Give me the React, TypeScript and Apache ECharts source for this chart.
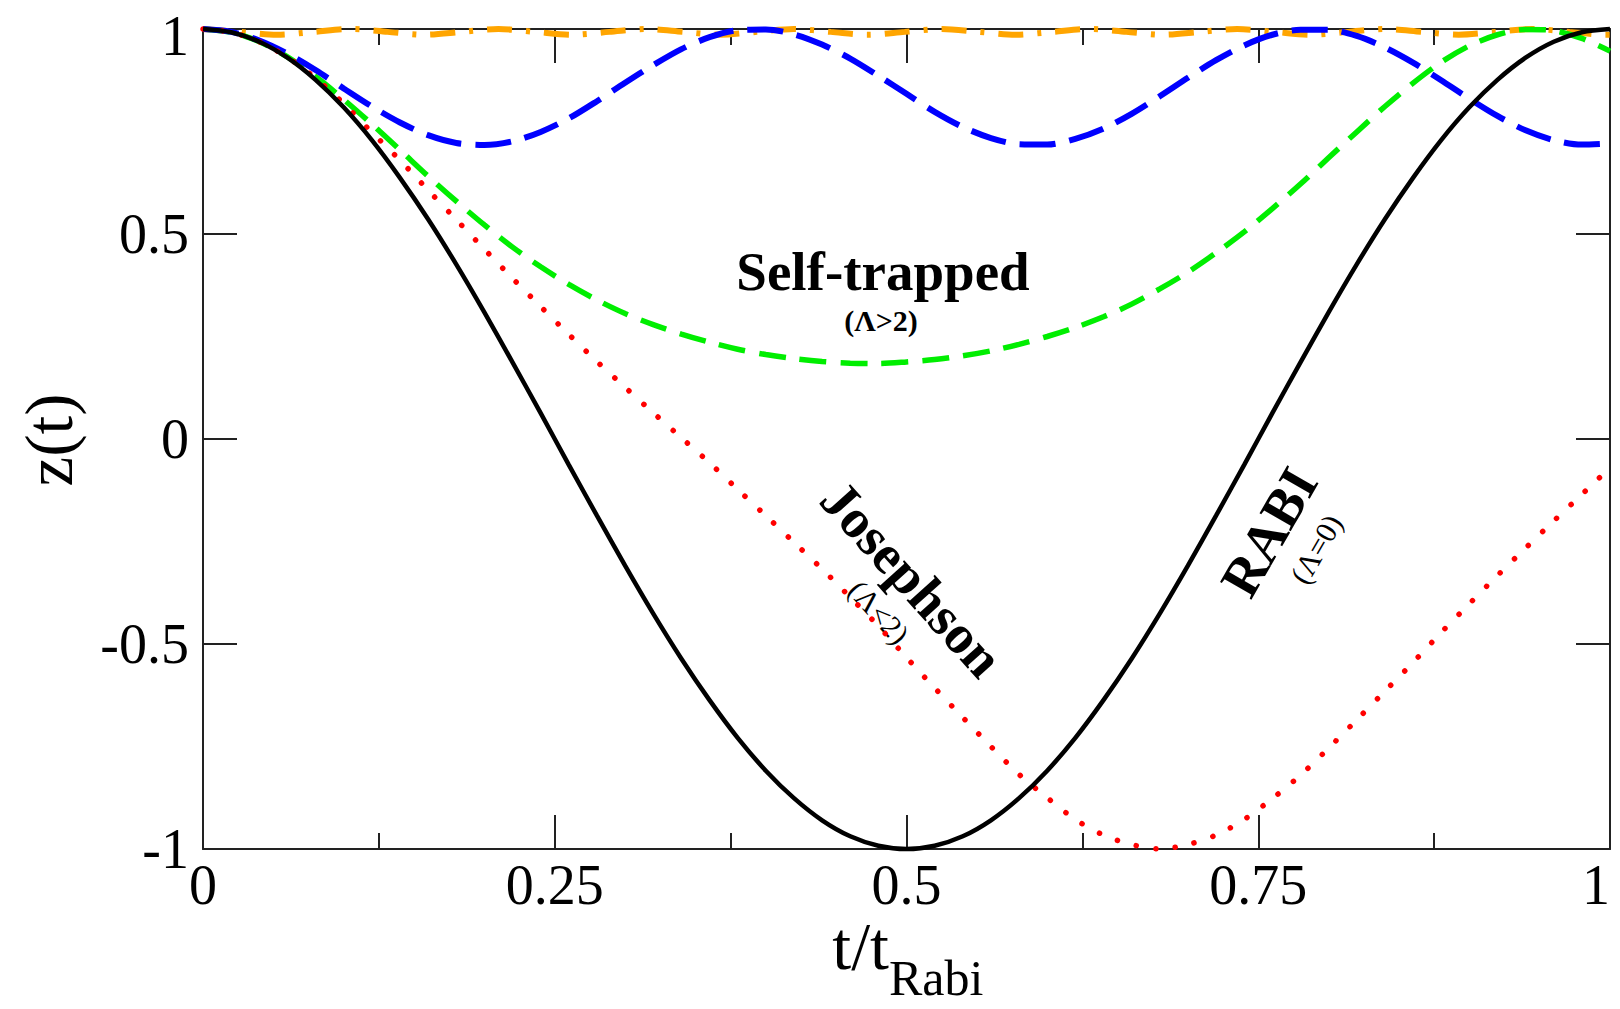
import React, { useEffect, useRef } from 'react';
import * as echarts from 'echarts';

// time grid (t / t_Rabi)
const T = [0, 0.02, 0.04, 0.06, 0.08, 0.1, 0.12, 0.14, 0.16, 0.18, 0.2, 0.22, 0.24, 0.26, 0.28, 0.3, 0.32, 0.34, 0.36, 0.38, 0.4, 0.42, 0.44, 0.46, 0.48, 0.5, 0.52, 0.54, 0.56, 0.58, 0.6, 0.62, 0.64, 0.66, 0.68, 0.7, 0.72, 0.74, 0.76, 0.78, 0.8, 0.82, 0.84, 0.86, 0.88, 0.9, 0.92, 0.94, 0.96, 0.98, 1.0];

// RABI (Λ=0), solid black
const RABI = [1.0, 0.992, 0.969, 0.930, 0.876, 0.809, 0.729, 0.637, 0.536, 0.426, 0.309, 0.187, 0.063, -0.063, -0.187, -0.309, -0.426, -0.536, -0.637, -0.729, -0.809, -0.876, -0.930, -0.969, -0.992, -1.0, -0.992, -0.969, -0.930, -0.876, -0.809, -0.729, -0.637, -0.536, -0.426, -0.309, -0.187, -0.063, 0.063, 0.187, 0.309, 0.426, 0.536, 0.637, 0.729, 0.809, 0.876, 0.930, 0.969, 0.992, 1.0];

// Josephson (Λ<2), red dotted
const JOSEPHSON = [1.0, 0.992, 0.969, 0.931, 0.880, 0.818, 0.748, 0.680, 0.607, 0.535, 0.463, 0.392, 0.323, 0.255, 0.189, 0.126, 0.064, 0.003, -0.058, -0.123, -0.187, -0.252, -0.317, -0.386, -0.456, -0.533, -0.607, -0.679, -0.750, -0.818, -0.875, -0.928, -0.966, -0.989, -1.0, -0.989, -0.966, -0.928, -0.877, -0.820, -0.754, -0.685, -0.615, -0.545, -0.472, -0.402, -0.333, -0.266, -0.200, -0.135, -0.070];

// green dashed
const GREEN = [1.0, 0.992, 0.969, 0.932, 0.884, 0.828, 0.768, 0.705, 0.641, 0.580, 0.522, 0.468, 0.420, 0.377, 0.339, 0.306, 0.279, 0.256, 0.236, 0.219, 0.206, 0.196, 0.189, 0.185, 0.184, 0.188, 0.194, 0.203, 0.215, 0.231, 0.250, 0.272, 0.298, 0.329, 0.366, 0.407, 0.454, 0.505, 0.562, 0.622, 0.686, 0.749, 0.811, 0.868, 0.919, 0.959, 0.986, 0.999, 0.996, 0.977, 0.946];

// blue long-dashed
const BLUE = [1.0, 0.993, 0.972, 0.940, 0.900, 0.855, 0.811, 0.772, 0.741, 0.722, 0.717, 0.726, 0.749, 0.782, 0.824, 0.869, 0.912, 0.951, 0.980, 0.997, 0.999, 0.987, 0.962, 0.928, 0.886, 0.842, 0.798, 0.761, 0.734, 0.719, 0.718, 0.732, 0.757, 0.793, 0.836, 0.881, 0.924, 0.960, 0.986, 0.998, 0.998, 0.983, 0.955, 0.918, 0.875, 0.830, 0.788, 0.753, 0.729, 0.718, 0.721];

// orange dash-dot (nearly flat, small ripple)
const T_ORANGE = [0, 0.02625, 0.0525, 0.07875, 0.105, 0.13125, 0.1575, 0.18375, 0.21, 0.23625, 0.2625, 0.28875, 0.315, 0.34125, 0.3675, 0.39375, 0.42, 0.44625, 0.4725, 0.49875, 0.525, 0.55125, 0.5775, 0.60375, 0.63, 0.65625, 0.6825, 0.70875, 0.735, 0.76125, 0.7875, 0.81375, 0.84, 0.86625, 0.8925, 0.91875, 0.945, 0.97125, 0.9975, 1.0];
const ORANGE = [1.0, 0.993, 0.986, 0.993, 1.0, 0.993, 0.986, 0.993, 1.0, 0.993, 0.986, 0.993, 1.0, 0.993, 0.986, 0.993, 1.0, 0.993, 0.986, 0.993, 1.0, 0.993, 0.986, 0.993, 1.0, 0.993, 0.986, 0.993, 1.0, 0.993, 0.986, 0.993, 1.0, 0.993, 0.986, 0.993, 1.0, 0.993, 0.986, 0.986];

const X_TICK_LABELS = ['0', '0.25', '0.5', '0.75', '1'];
const Y_TICK_LABELS = ['-1', '-0.5', '0', '0.5', '1'];

const FONT = '"Liberation Serif", "Times New Roman", serif';

export default function App() {
  const ref = useRef<HTMLDivElement>(null);

  useEffect(() => {
    const chart = echarts.init(ref.current!, undefined, { renderer: 'svg' });
    const pairs = (ts: number[], vs: number[]) => ts.map((t, i) => [t, vs[i]]);
    const axisColor = '#222';
    const axisLine = { show: true, onZero: false, lineStyle: { color: axisColor, width: 2 } };
    const tick = { show: true, inside: true, length: 34, lineStyle: { color: axisColor, width: 2 } };

    const xBase = {
      type: 'value',
      min: 0,
      max: 1,
      interval: 0.25,
      axisLine,
      axisTick: tick,
      minorTick: { show: true, splitNumber: 2, length: 16, lineStyle: { color: axisColor, width: 2 } },
      splitLine: { show: false },
      minorSplitLine: { show: false },
    };
    const yBase = {
      type: 'value',
      min: -1,
      max: 1,
      interval: 0.5,
      axisLine,
      axisTick: tick,
      splitLine: { show: false },
    };

    const line = (name: string, ts: number[], vs: number[], ls: any, z: number) => ({
      name,
      type: 'line',
      data: pairs(ts, vs),
      showSymbol: false,
      symbol: 'none',
      smooth: 0.3,
      clip: false,
      z,
      lineStyle: ls,
    });

    const option: any = {
      animation: false,
      backgroundColor: '#ffffff',
      grid: { left: 203, right: 10, top: 29, bottom: 160, containLabel: false, outerBoundsMode: 'none' },
      xAxis: [
        {
          ...xBase,
          position: 'bottom',
          axisLabel: {
            show: true,
            color: '#000',
            fontFamily: FONT,
            fontSize: 56,
            lineHeight: 44,
            margin: 14,
            alignMaxLabel: 'right',
            formatter: (_v: number, i: number) => X_TICK_LABELS[i],
          },
        },
        { ...xBase, position: 'top', axisLabel: { show: false } },
      ],
      yAxis: [
        {
          ...yBase,
          position: 'left',
          axisLabel: {
            show: true,
            color: '#000',
            fontFamily: FONT,
            fontSize: 56,
            lineHeight: 44,
            margin: 14,
            formatter: (_v: number, i: number) =>
              i === Y_TICK_LABELS.length - 1 ? `{top|${Y_TICK_LABELS[i]}}` : Y_TICK_LABELS[i],
            rich: {
              top: { fontFamily: FONT, fontSize: 56, lineHeight: 44, color: '#000', padding: [14, 0, 0, 0] },
            },
          },
        },
        { ...yBase, position: 'right', axisLabel: { show: false } },
      ],
      series: [
        line('RABI', T, RABI, { color: '#000000', width: 4.5, type: 'solid' }, 5),
        line('Josephson', T, JOSEPHSON, { color: '#ff0000', width: 5.5, type: [0.1, 19.5], cap: 'round' }, 4),
        line('Green', T, GREEN, { color: '#00ee00', width: 5.5, type: [27, 14] }, 3),
        line('Blue', T, BLUE, { color: '#0000ff', width: 6, type: [36, 14] }, 3),
        line('Orange', T_ORANGE, ORANGE, { color: '#ffa500', width: 6, type: [25, 14, 4, 14] }, 2),
      ],
      graphic: [
        { type: 'text', x: 49, y: 440, rotation: Math.PI / 2, style: { text: 'z(t)', font: `67px ${FONT}`, fill: '#000', align: 'center', verticalAlign: 'middle' } },
        { type: 'text', x: 889, y: 946, style: { text: 't/t', font: `68px ${FONT}`, fill: '#000', align: 'right', verticalAlign: 'middle' } },
        { type: 'text', x: 889, y: 978, style: { text: 'Rabi', font: `50px ${FONT}`, fill: '#000', align: 'left', verticalAlign: 'middle' } },
        { type: 'text', x: 883, y: 271, style: { text: 'Self-trapped', font: `bold 55px ${FONT}`, fill: '#000', align: 'center', verticalAlign: 'middle' } },
        { type: 'text', x: 881, y: 320, style: { text: '(Λ>2)', font: `bold 30px ${FONT}`, fill: '#000', align: 'center', verticalAlign: 'middle' } },
        { type: 'text', x: 912, y: 579, rotation: (-48 * Math.PI) / 180, style: { text: 'Josephson', font: `bold 55px ${FONT}`, fill: '#000', align: 'center', verticalAlign: 'middle' } },
        { type: 'text', x: 879, y: 612, rotation: (-48 * Math.PI) / 180, style: { text: '(Λ<2)', font: `30px ${FONT}`, fill: '#000', align: 'center', verticalAlign: 'middle' } },
        { type: 'text', x: 1269, y: 532, rotation: (60 * Math.PI) / 180, style: { text: 'RABI', font: `bold 55px ${FONT}`, fill: '#000', align: 'center', verticalAlign: 'middle' } },
        { type: 'text', x: 1316, y: 549, rotation: (60 * Math.PI) / 180, style: { text: '(Λ=0)', font: `30px ${FONT}`, fill: '#000', align: 'center', verticalAlign: 'middle' } },
      ],
    };

    chart.setOption(option);
    return () => chart.dispose();
  }, []);

  return (
    <div
      ref={ref}
      style={{ position: 'fixed', left: 0, top: 0, width: 1620, height: 1009, background: '#fff' }}
    />
  );
}
